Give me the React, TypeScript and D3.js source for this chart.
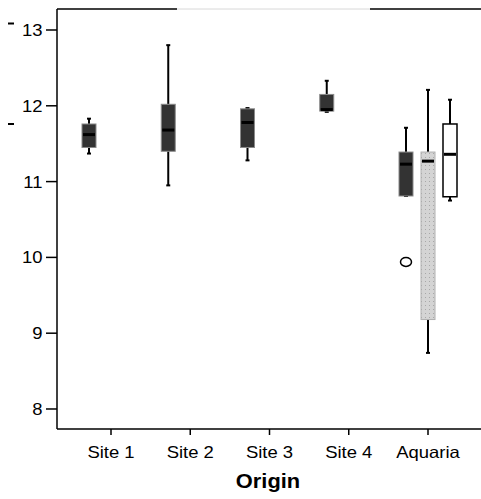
import React from "react";
import * as d3 from "d3";

const categories = ["Site 1", "Site 2", "Site 3", "Site 4", "Aquaria"];
// group index within category: 0 = dark, 1 = dotted, 2 = white
const boxCategory = ["Site 1", "Site 2", "Site 3", "Site 4", "Aquaria", "Aquaria", "Aquaria"];
const boxGroup = [0, 0, 0, 0, 0, 1, 2];
const whiskerLow = [11.37, 10.95, 11.28, 11.92, 10.81, 8.74, 10.75];
const q1 = [11.45, 11.4, 11.45, 11.93, 10.81, 9.18, 10.8];
const median = [11.62, 11.68, 11.78, 11.95, 11.23, 11.27, 11.36];
const q3 = [11.76, 12.02, 11.96, 12.15, 11.39, 11.39, 11.76];
const whiskerHigh = [11.83, 12.8, 11.97, 12.33, 11.71, 12.21, 12.08];
const outlierCategory = ["Aquaria"];
const outlierGroup = [0];
const outlierValue = [9.94];
const yTicks = [8, 9, 10, 11, 12, 13];
const xTitle = "Origin";

function SText({ x, y, anchor, size, weight, children }: any) {
  return (
    <g transform={`translate(${x},${y}) scale(1.12,1)`}>
      <text x={0} y={0} textAnchor={anchor} fontSize={size} fontWeight={weight || "normal"} fill="#000">{children}</text>
    </g>
  );
}

export default function App() {
  const W = 481, H = 499;
  const left = 57, top = 9, bottom = 429, right = 481;
  const y = d3.scaleLinear().domain([7.736, 13.277]).range([bottom, top]);
  const x = d3.scalePoint<string>().domain(categories).range([111, 428]);
  const gx = d3.scaleLinear().domain([0, 2]).range([-22, 22]);
  const bw = 14;

  return (
    <div style={{ position: "absolute", left: 0, top: 0 }}>
      <svg width={W} height={H} style={{ display: "block", fontFamily: "Arial, 'Liberation Sans', sans-serif" }}>
        <defs>
          <pattern id="dots" width="4" height="4" patternUnits="userSpaceOnUse">
            <rect width="4" height="4" fill="#d4d4d4" />
            <rect x="1" y="1" width="1" height="1" fill="#a8a8a8" />
          </pattern>
        </defs>
        <rect width={W} height={H} fill="#fff" />
        {/* stray dashes */}
        <rect x={8} y={22.5} width={6} height={2} fill="#000" />
        <rect x={8} y={123} width={6} height={2} fill="#000" />
        {/* top frame */}
        <line x1={left} x2={177} y1={top} y2={top} stroke="#000" strokeWidth={1.5} />
        <line x1={177} x2={370} y1={top} y2={top} stroke="#d8d8d8" strokeWidth={1} />
        <line x1={370} x2={right} y1={top} y2={top} stroke="#000" strokeWidth={1.5} />
        {/* axes */}
        <line x1={left} x2={left} y1={top} y2={bottom} stroke="#000" strokeWidth={1.5} />
        <line x1={left} x2={right} y1={bottom} y2={bottom} stroke="#000" strokeWidth={1.5} />
        {yTicks.map((t) => (
          <g key={t}>
            <line x1={left - 11} x2={left} y1={y(t)} y2={y(t)} stroke="#000" strokeWidth={1.5} />
            <SText x={42.5} y={y(t) + 6} anchor="end" size={16.5}>{t}</SText>
          </g>
        ))}
        {categories.map((c) => (
          <g key={c}>
            <line x1={x(c)} x2={x(c)} y1={bottom} y2={bottom + 6} stroke="#000" strokeWidth={1.5} />
            <SText x={x(c)} y={457.5} anchor="middle" size={16.5}>{c}</SText>
          </g>
        ))}
        <SText x={268} y={488} anchor="middle" size={19.5} weight="bold">{xTitle}</SText>
        {boxCategory.map((c, i) => {
          const cx = (x(c) as number) + gx(boxGroup[i]);
          const g = boxGroup[i];
          const fill = g === 0 ? "#333333" : g === 1 ? "url(#dots)" : "#ffffff";
          const stroke = g === 0 ? "#8a8a8a" : g === 1 ? "#b0b0b0" : "#000";
          return (
            <g key={i}>
              <line x1={cx} x2={cx} y1={y(whiskerHigh[i])} y2={y(q3[i])} stroke="#000" strokeWidth={2} />
              <line x1={cx} x2={cx} y1={y(q1[i])} y2={y(whiskerLow[i])} stroke="#000" strokeWidth={2} />
              <line x1={cx - 2} x2={cx + 2} y1={y(whiskerHigh[i])} y2={y(whiskerHigh[i])} stroke="#000" strokeWidth={2} />
              <line x1={cx - 2} x2={cx + 2} y1={y(whiskerLow[i])} y2={y(whiskerLow[i])} stroke="#000" strokeWidth={2} />
              <rect x={cx - bw / 2} y={y(q3[i])} width={bw} height={y(q1[i]) - y(q3[i])} fill={fill} stroke={stroke} strokeWidth={g === 2 ? 1.5 : 1} />
              <line x1={cx - bw / 2 + 1} x2={cx + bw / 2 - 1} y1={y(median[i])} y2={y(median[i])} stroke="#000" strokeWidth={3} />
            </g>
          );
        })}
        {outlierCategory.map((c, i) => (
          <ellipse key={i} cx={(x(c) as number) + gx(outlierGroup[i])} cy={y(outlierValue[i])} rx={5.5} ry={4.5} fill="#fff" stroke="#000" strokeWidth={1.5} />
        ))}
      </svg>
    </div>
  );
}
